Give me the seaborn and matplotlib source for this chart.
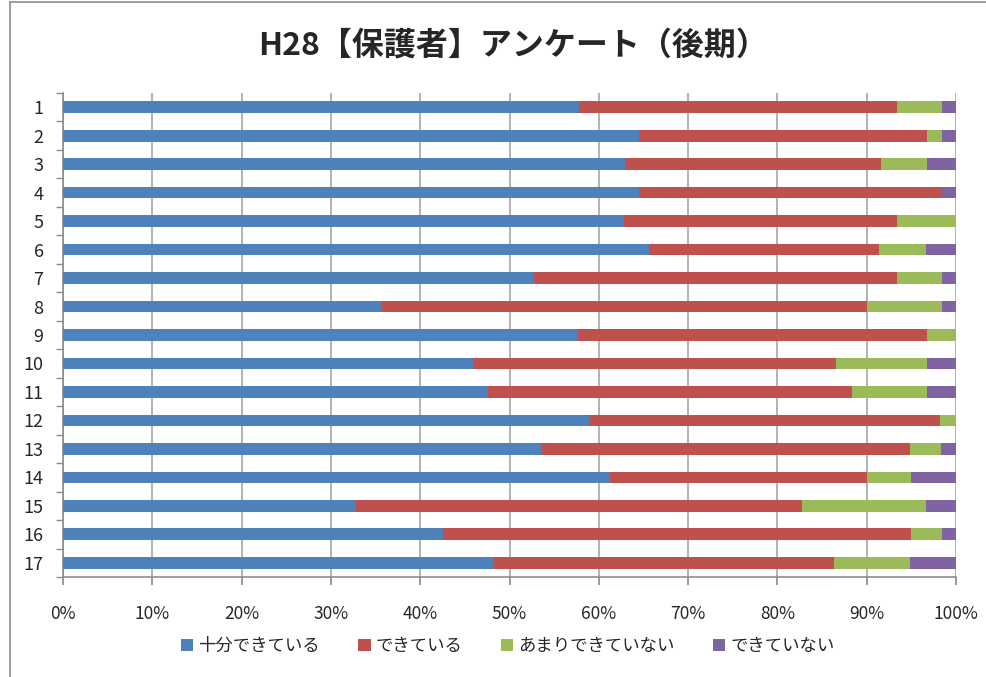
import matplotlib
matplotlib.use('Agg')
import matplotlib.pyplot as plt
from matplotlib.lines import Line2D
from matplotlib.patches import Patch
from matplotlib.ticker import FixedLocator, PercentFormatter
import numpy as np
import pandas as pd
import seaborn as sns

# Survey items 1..17 and the share (%) of each answer
items = [str(i) for i in range(1, 18)]
series = ['十分できている', 'できている', 'あまりできていない', 'できていない']
colors = ['#4F81BD', '#C0504D', '#9BBB59', '#8064A2']

well_done = [57.8, 64.5, 62.9, 64.5, 62.8, 65.6, 52.7, 35.7, 57.7,
             45.9, 47.6, 58.9, 53.5, 61.2, 32.8, 42.5, 48.3]
done = [35.6, 32.2, 28.7, 33.9, 30.6, 25.8, 40.7, 54.3, 39.0,
        40.7, 40.8, 39.3, 41.3, 28.8, 50.0, 52.5, 38.0]
not_much = [5.0, 1.7, 5.1, 0.0, 6.6, 5.2, 5.0, 8.4, 3.3,
            10.1, 8.3, 1.8, 3.5, 5.0, 13.8, 3.4, 8.5]
not_done = [1.6, 1.6, 3.3, 1.6, 0.0, 3.4, 1.6, 1.6, 0.0,
            3.3, 3.3, 0.0, 1.7, 5.0, 3.4, 1.6, 5.2]

df = pd.DataFrame({'item': items, series[0]: well_done, series[1]: done,
                   series[2]: not_much, series[3]: not_done})
cum = df[series].cumsum(axis=1)

sns.set_theme(style='white')
plt.rcParams['font.family'] = ['Noto Sans CJK JP', 'DejaVu Sans']

fig = plt.figure(figsize=(9.86, 6.77), dpi=100)
ax = fig.add_axes([63 / 986, 1 - 577 / 677, 893 / 986, 484 / 677])

# draw cumulative totals from the right-most series down so they stack
for name, col in reversed(list(zip(series, colors))):
    sns.barplot(x=cum[name].clip(upper=100), y=df['item'], orient='h', color=col,
                width=0.41, saturation=1, linewidth=0, ax=ax, zorder=3)

ax.set_xlim(0, 100)
ax.set_ylim(16.5, -0.5)
ax.xaxis.set_major_locator(FixedLocator(np.arange(0, 101, 10)))
ax.xaxis.set_major_formatter(PercentFormatter(decimals=0))
ax.grid(axis='x', color='#a6a6a6', linewidth=1.2, zorder=0)
ax.set_axisbelow(True)
ax.set_xlabel('')
ax.set_ylabel('')

ax.yaxis.set_minor_locator(FixedLocator(np.arange(-0.5, 17, 1)))
ax.tick_params(axis='y', which='major', length=0, pad=14, labelsize=13)
ax.tick_params(axis='y', which='minor', left=True, length=5, color='#8c8c8c')
ax.tick_params(axis='x', bottom=True, length=6, color='#8c8c8c', pad=14, labelsize=12.5)

for side in ['top', 'right']:
    ax.spines[side].set_visible(False)
for side in ['left', 'bottom']:
    ax.spines[side].set_color('#8c8c8c')
    ax.spines[side].set_linewidth(1.2)

fig.suptitle('H28【保護者】アンケート（後期）', x=0.52, y=1 - 45 / 677, va='center',
             fontsize=23, fontweight='bold')

handles = [Patch(facecolor=c, edgecolor='none', label=s) for s, c in zip(series, colors)]
fig.legend(handles=handles, loc='center', bbox_to_anchor=(0.515, 1 - 646 / 677),
           ncol=4, frameon=False, fontsize=12.5, handlelength=0.7, handleheight=0.7,
           handletextpad=0.3, columnspacing=2.2)

# chart frame edges
fig.add_artist(Line2D([10 / 986, 10 / 986], [0, 1 - 2 / 677], color='#8c8c8c', linewidth=1.2))
fig.add_artist(Line2D([10 / 986, 1], [1 - 2 / 677, 1 - 2 / 677], color='#8c8c8c', linewidth=1.2))

fig.savefig('out.png', dpi=100, facecolor='white')
